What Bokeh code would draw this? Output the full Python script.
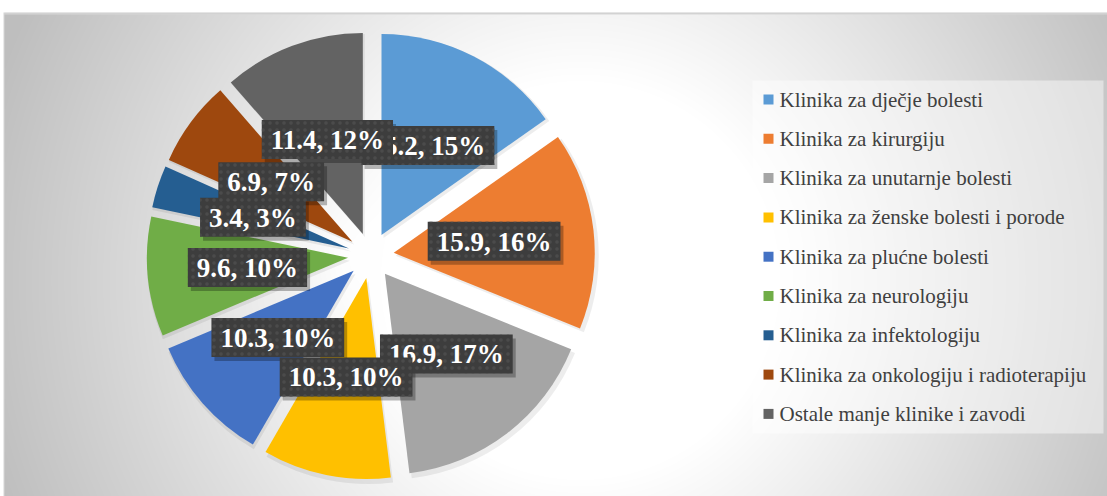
import numpy as np
from bokeh.plotting import figure
from bokeh.models import Range1d, ColumnDataSource
from bokeh.core.properties import value
from bokeh.embed import file_html
from bokeh.resources import INLINE

# ---------------- data ----------------
categories = [
    "Klinika za dječje bolesti",
    "Klinika za kirurgiju",
    "Klinika za unutarnje bolesti",
    "Klinika za ženske bolesti i porode",
    "Klinika za plućne bolesti",
    "Klinika za neurologiju",
    "Klinika za infektologiju",
    "Klinika za onkologiju i radioterapiju",
    "Ostale manje klinike i zavodi",
]
values = [15.2, 15.9, 16.9, 10.3, 10.3, 9.6, 3.4, 6.9, 11.4]
percent_labels = ["15%", "16%", "17%", "10%", "10%", "10%", "3%", "7%", "12%"]
colors = ["#5B9BD5", "#ED7D31", "#A5A5A5", "#FFC000", "#4472C4",
          "#70AD47", "#255E91", "#9E480E", "#636363"]

# ---------------- layout (page pixels; data y = 496 - page y) ----------------
W, H = 1107, 496
PAGE_H = 496
def Y(py):
    return PAGE_H - py

SERIF = value("Liberation Serif")

CX, CY = 370.4, Y(255)   # pie centre
R = 201                  # pie radius
EXPLODE = 23             # explosion offset
LABEL_R = 124            # distance of labels from centre

vals = np.array(values, dtype=float)
cum = np.concatenate([[0], np.cumsum(vals)]) / vals.sum() * 360.0   # clockwise from top
t1, t2 = cum[:-1], cum[1:]
mid = np.radians((t1 + t2) / 2)
wx = CX + EXPLODE * np.sin(mid)
wy = CY + EXPLODE * np.cos(mid)
start = np.radians(90 - t2)
end = np.radians(90 - t1)
lx = CX + LABEL_R * np.sin(mid)
ly = CY + LABEL_R * np.cos(mid)
label_text = [f"{v}, {pc}" for v, pc in zip(values, percent_labels)]

p = figure(width=W, height=H, output_backend="svg", toolbar_location=None,
           x_range=Range1d(0, W), y_range=Range1d(Y(H), Y(0)),
           min_border=0, outline_line_color=None, background_fill_color="white",
           border_fill_color="white")
p.axis.visible = False
p.grid.visible = False

# ---------------- background gradient (decoration) ----------------
x0, x1 = 3, W
ytop, ybot = 12, H
cols = x1 - x0
rows = ybot - ytop
px = x0 + np.arange(cols) + 0.5
py = ybot - (np.arange(rows) + 0.5)        # row 0 = bottom
PX, PY = np.meshgrid(px, py)
d = np.hypot(PX - 580, (PY - 280) * 1.0)
t = np.clip((d - 200) / 420, 0, 1)
v = 255 - 65 * t
dc = np.hypot(PX - CX, PY - (PAGE_H - CY))
v = v + (255 - v) * np.exp(-(dc / 55) ** 2) * 0.95
v = np.clip(v, 0, 255).astype(np.uint8)
img = np.empty((rows, cols), dtype=np.uint32)
view = img.view(dtype=np.uint8).reshape((rows, cols, 4))
view[:, :, 0] = v
view[:, :, 1] = v
view[:, :, 2] = v
view[:, :, 3] = 255
view[-1, :, :3] = 205
view[-2, :, :3] = 215
view[:, 0, :3] = 215
p.image_rgba(image=[img], x=x0, y=Y(ybot), dw=cols, dh=rows)

# ---------------- pie ----------------
src = ColumnDataSource(dict(x=wx, y=wy, start=start, end=end, color=colors,
                            sx=wx + 2, sy=wy - 3))
p.wedge(x="sx", y="sy", radius=R + 2, start_angle="start", end_angle="end",
        fill_color="black", fill_alpha=0.07, line_color=None, source=src)
p.wedge(x="x", y="y", radius=R, start_angle="start", end_angle="end",
        fill_color="color", line_color=None, source=src)

# ---------------- legend ----------------
p.quad(left=752, right=1103, top=Y(80), bottom=Y(433),
       fill_color="white", fill_alpha=0.45, line_color=None)
n = len(categories)
leg_y = [Y(99 + 39.3 * i) for i in range(n)]
p.scatter(x=[768] * n, y=leg_y, marker="square", size=10, fill_color=colors,
          line_color=None)
p.text(x=[779] * n, y=leg_y, text=categories, text_baseline="middle",
       text_align="left", text_font=SERIF,
       text_font_size="21px", text_color="#404040")

# ---------------- data labels ----------------
lsrc = ColumnDataSource(dict(x=lx, y=ly, text=label_text))
pad = dict(left=9, right=9, top=5, bottom=4)
p.text(x="x", y="y", text="text", source=lsrc, text_align="center",
       text_baseline="middle", text_font=SERIF,
       text_font_style="bold", text_font_size="27px", text_alpha=0,
       background_fill_color="black", background_fill_alpha=0.28,
       x_offset=3, y_offset=4, padding=pad)
p.text(x="x", y="y", text="text", source=lsrc, text_align="center",
       text_baseline="middle", text_font=SERIF,
       text_font_style="bold", text_font_size="27px", text_color="white",
       background_fill_color="#3d3d3d", background_hatch_pattern="dot",
       background_hatch_color="#4b4b4b", background_hatch_scale=7,
       padding=pad)

open("out.html", "w").write(file_html(p, INLINE))
